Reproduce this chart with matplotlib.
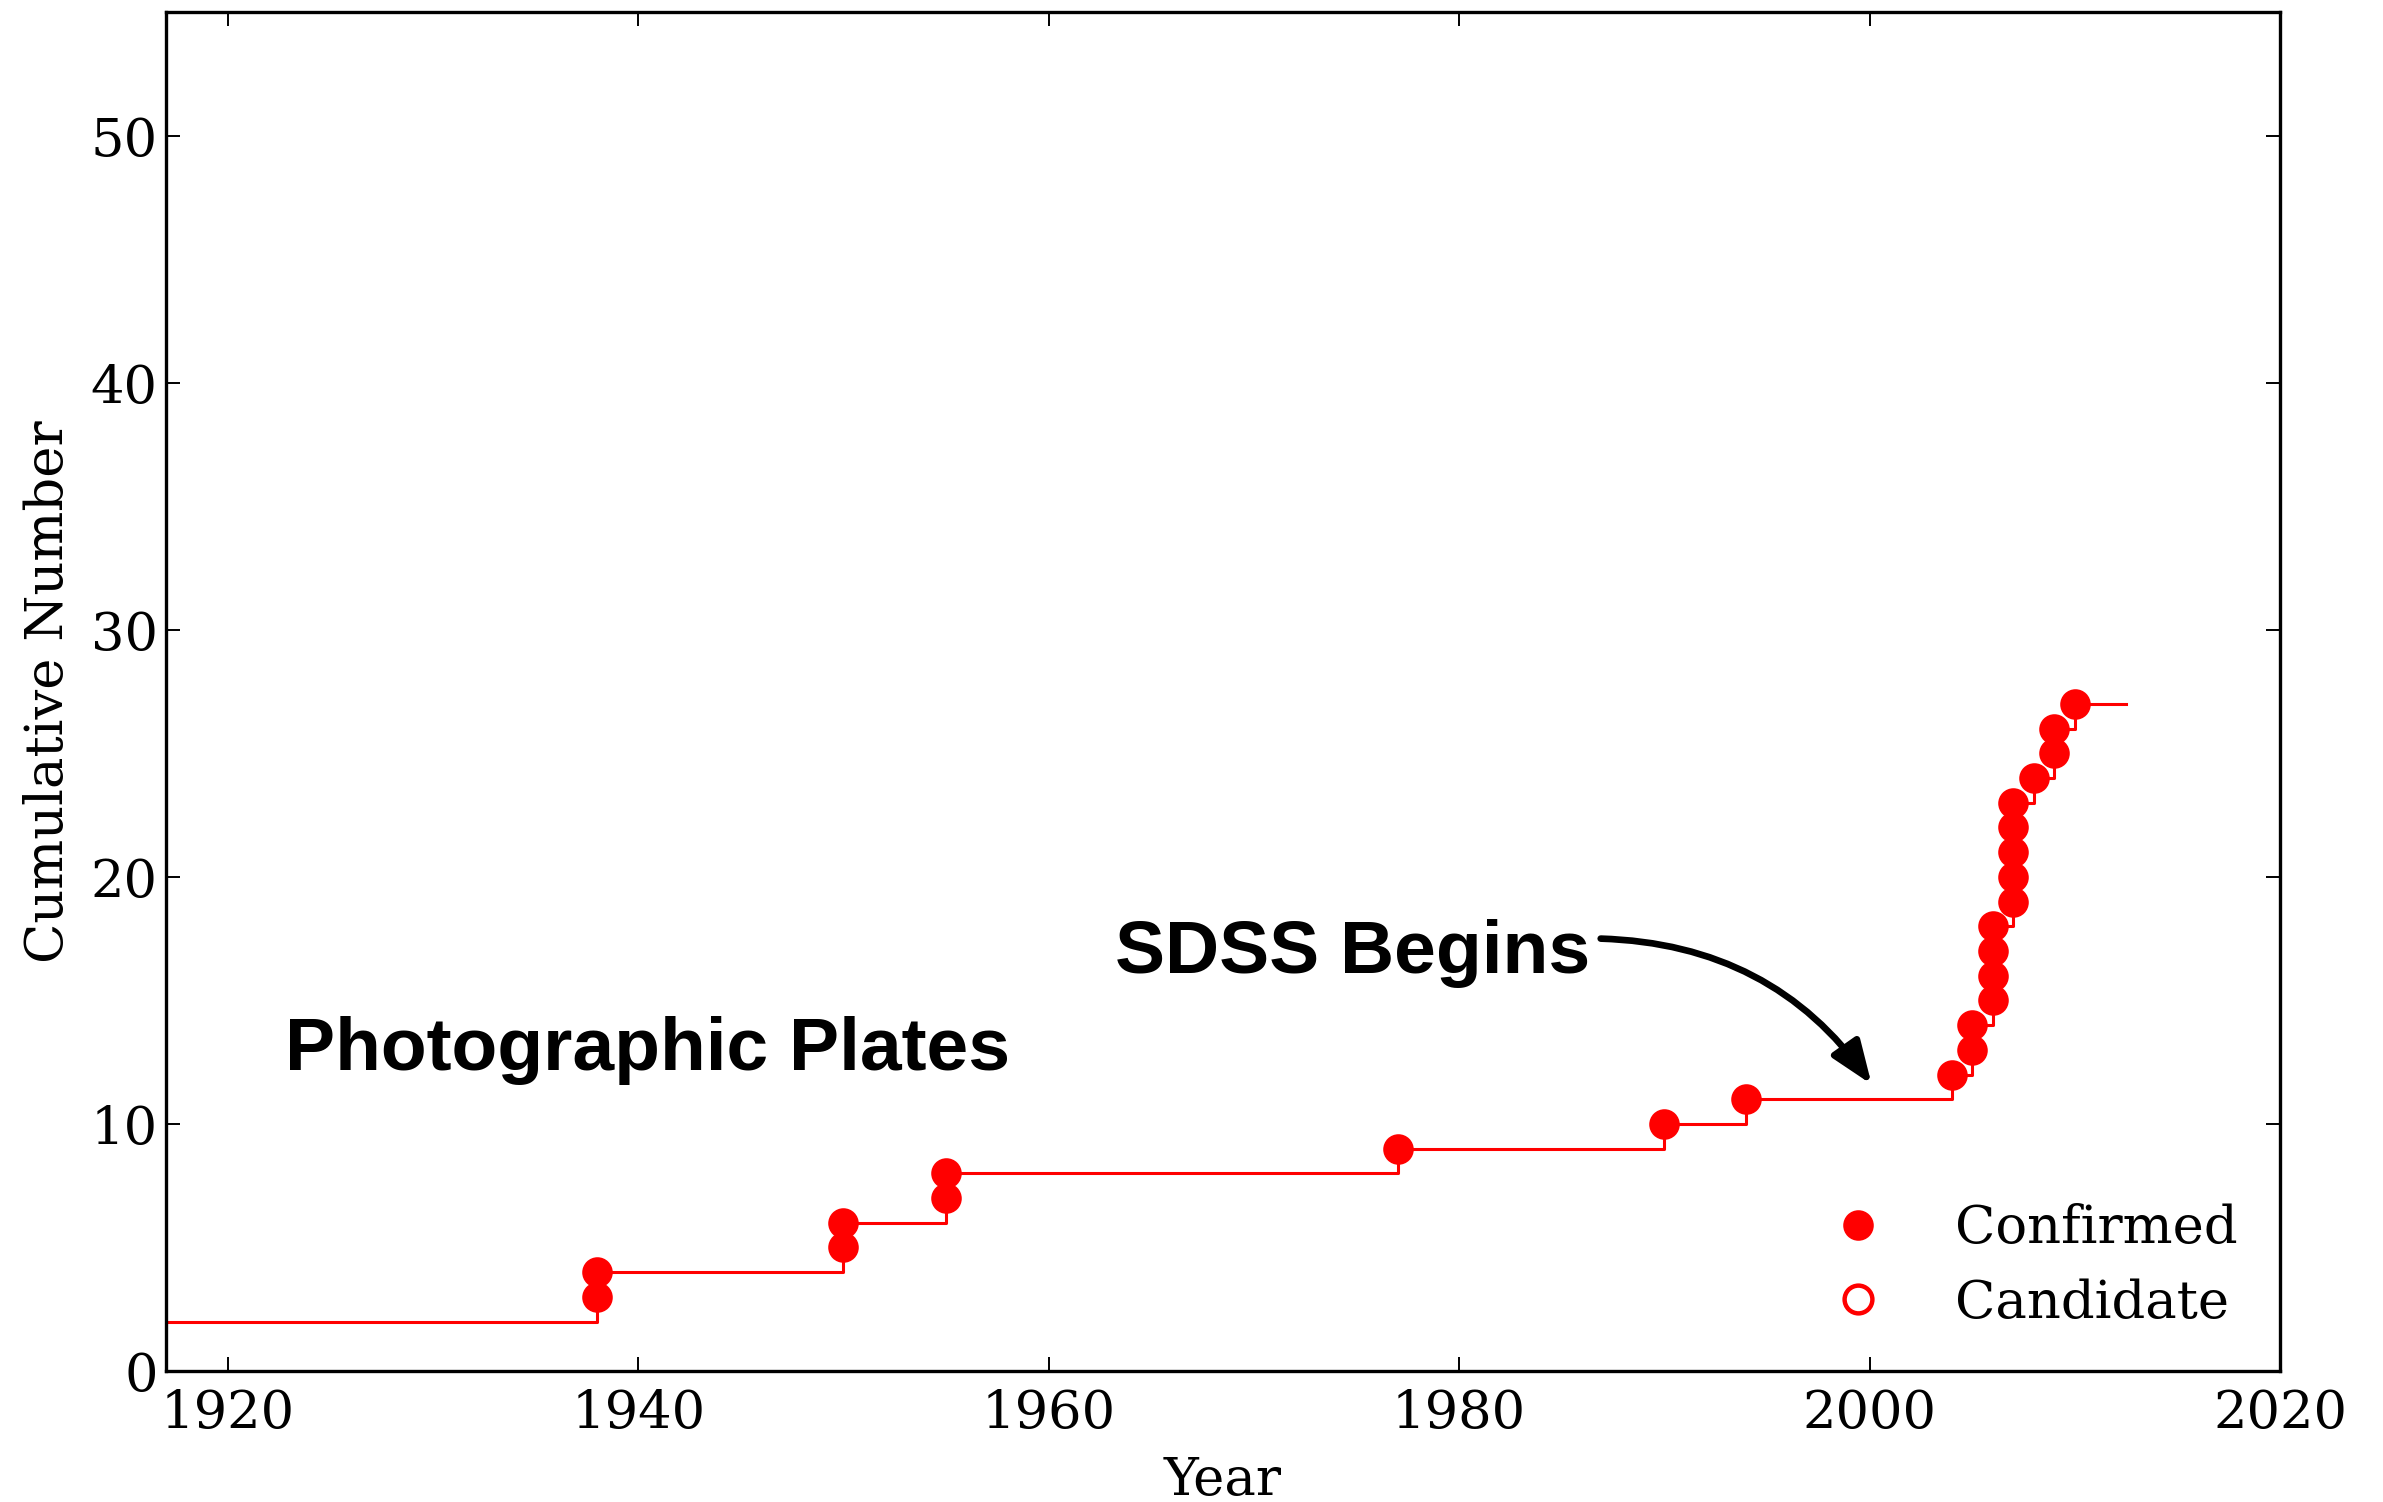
import matplotlib
matplotlib.use('Agg')
import matplotlib.pyplot as plt

# cumulative discoveries by year (confirmed)
years = [1938, 1938, 1950, 1950, 1955, 1955, 1977, 1990, 1994, 2004,
         2005, 2005, 2006, 2006, 2006, 2006, 2007, 2007, 2007, 2007,
         2007, 2008, 2009, 2009, 2010]
counts = [3, 4, 5, 6, 7, 8, 9, 10, 11, 12,
          13, 14, 15, 16, 17, 18, 19, 20, 21, 22,
          23, 24, 25, 26, 27]
start_year, start_count = 1917, 2
end_year = 2012.5

plt.rcParams['font.family'] = 'DejaVu Serif'

fig = plt.figure(figsize=(11.915, 7.51), dpi=200)
ax = fig.add_axes([0.0697, 0.0872, 0.8871, 0.9048])

# step line
step_x = [start_year] + years + [end_year]
step_y = [start_count] + counts + [counts[-1]]
ax.plot(step_x, step_y, color='red', lw=1.1, drawstyle='steps-post')

ax.plot(years, counts, 'o', color='red', ms=10, mec='red', label='Confirmed')
ax.plot([], [], 'o', mfc='none', mec='red', mew=1.6, ms=10, label='Candidate')

ax.set_xlim(1917, 2020)
ax.set_ylim(0, 55)
ax.set_xticks([1920, 1940, 1960, 1980, 2000, 2020])
ax.set_yticks([0, 10, 20, 30, 40, 50])

ax.tick_params(direction='in', length=5, width=0.7, labelsize=19,
               top=True, right=True)
ax.tick_params(axis='x', pad=6)
ax.tick_params(axis='y', pad=3)
for s in ax.spines.values():
    s.set_linewidth(1.2)

ax.set_xlabel('Year', fontsize=19, labelpad=6)
ax.set_ylabel('Cumulative Number', fontsize=19, labelpad=6)

bold = dict(family='Liberation Sans', weight='bold', fontsize=27)
ax.text(1922.8, 12.2, 'Photographic Plates', ha='left', va='baseline', **bold)
ax.text(1986.4, 16.1, 'SDSS Begins', ha='right', va='baseline', **bold)

ax.annotate('', xy=(2000.1, 11.6), xytext=(1986.9, 17.5),
            arrowprops=dict(arrowstyle='-|>,head_length=0.65,head_width=0.25',
                            mutation_scale=20, lw=2.4, color='black',
                            shrinkA=0, shrinkB=0,
                            connectionstyle='arc3,rad=-0.25'))

ax.legend(loc='lower right', frameon=False, numpoints=1, fontsize=19,
          labelspacing=0.45, handletextpad=0.85, borderaxespad=0.4)

fig.savefig('out.png', dpi=200)
